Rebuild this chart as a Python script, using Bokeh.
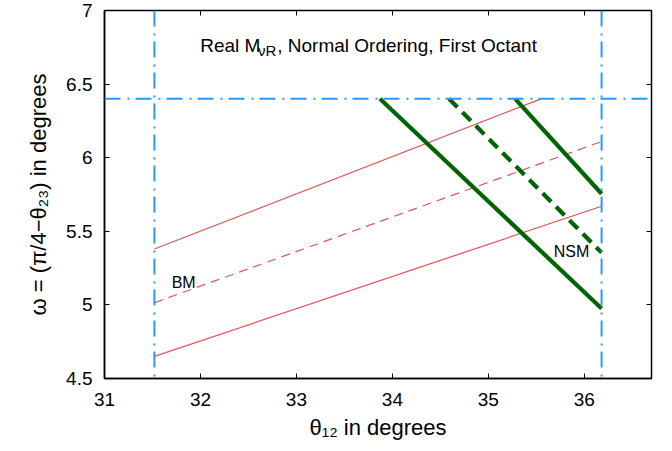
from bokeh.plotting import figure
from bokeh.models import Label, Span, LinearAxis, Range1d, FixedTicker, CustomJSTickFormatter
from bokeh.embed import file_html
from bokeh.resources import INLINE

# ---- data ----
x_ticks = [31, 32, 33, 34, 35, 36]
y_ticks = [4.5, 5, 5.5, 6, 6.5, 7]

# experimental bounds (dash-dot blue lines)
theta12_bounds = [31.52, 36.18]
omega_bound = [6.40]

# BM lines (red): [start, end]
bm_upper_x = [31.52, 35.55]
bm_upper_y = [5.38, 6.40]
bm_mid_x = [31.52, 36.18]
bm_mid_y = [5.015, 6.11]
bm_lower_x = [31.52, 36.18]
bm_lower_y = [4.65, 5.67]

# NSM lines (green)
nsm_left_x = [33.87, 36.18]
nsm_left_y = [6.40, 4.975]
nsm_mid_x = [34.59, 36.18]
nsm_mid_y = [6.40, 5.355]
nsm_right_x = [35.28, 36.18]
nsm_right_y = [6.40, 5.755]

FONT = "Liberation Sans"
BLUE = "#2c96ff"
RED = "#d9575a"
GREEN = "#006400"

p = figure(width=672, height=451, output_backend="svg", toolbar_location=None,
           x_range=Range1d(31, 36.7), y_range=Range1d(4.5, 7),
           min_border_left=104, min_border_right=21, min_border_top=10, min_border_bottom=73)
p.grid.visible = False
p.background_fill_color = "white"
p.border_fill_color = "white"
p.outline_line_color = "black"
p.outline_line_width = 1.5

fmt = CustomJSTickFormatter(code="return tick.toString();")
for ax, ticks in ((p.xaxis[0], x_ticks), (p.yaxis[0], y_ticks)):
    ax.ticker = FixedTicker(ticks=ticks)
    ax.formatter = fmt
    ax.major_tick_in = 5
    ax.major_tick_out = 0
    ax.minor_tick_line_color = None
    ax.axis_line_color = "black"
    ax.axis_line_width = 1.5
    ax.major_tick_line_width = 1
    ax.major_label_text_font = FONT
    ax.major_label_text_font_size = "19px"
    ax.major_label_text_color = "black"
    ax.axis_label_text_font = FONT
    ax.axis_label_text_font_size = "22px"
    ax.axis_label_text_font_style = "normal"
    ax.axis_label_text_color = "black"

p.xaxis[0].major_label_standoff = 14
p.xaxis[0].axis_label_standoff = 6
p.yaxis[0].major_label_standoff = 12
p.yaxis[0].axis_label_standoff = 12
p.xaxis[0].axis_label = "\u03b8\u2081\u2082 in degrees"
p.yaxis[0].axis_label = "\u03c9 = (\u03c0/4\u2212\u03b8\u2082\u2083) in degrees"

for loc, ticks in (("above", x_ticks), ("right", y_ticks)):
    a = LinearAxis(ticker=FixedTicker(ticks=ticks), major_tick_in=5, major_tick_out=0,
                   minor_tick_line_color=None, axis_line_color=None,
                   major_label_text_font_size="1px", major_label_text_color=None,
                   major_label_standoff=0)
    p.add_layout(a, loc)

# blue dash-dot bounds
for v in theta12_bounds:
    p.add_layout(Span(location=v, dimension="height", line_color=BLUE,
                      line_width=2, line_dash="16 7 2 6"))
for v in omega_bound:
    p.add_layout(Span(location=v, dimension="width", line_color=BLUE,
                      line_width=2, line_dash="16 7 2 6"))

# red BM lines
p.line(bm_upper_x, bm_upper_y, line_color=RED, line_width=1.2)
p.line(bm_mid_x, bm_mid_y, line_color=RED, line_width=1.2, line_dash="9 6")
p.line(bm_lower_x, bm_lower_y, line_color=RED, line_width=1.2)

# green NSM lines
p.line(nsm_left_x, nsm_left_y, line_color=GREEN, line_width=4.2)
p.line(nsm_mid_x, nsm_mid_y, line_color=GREEN, line_width=4.2, line_dash="12 7")
p.line(nsm_right_x, nsm_right_y, line_color=GREEN, line_width=4.2)

def lab(x, y, text, size, align="left", baseline="alphabetic"):
    p.add_layout(Label(x=x, y=y, text=text, text_font=FONT, text_font_size=size,
                       text_color="black", text_align=align, text_baseline=baseline))

lab(31.825, 5.15, "BM", "16px", align="center", baseline="middle")
lab(35.866, 5.363, "NSM", "16px", align="center", baseline="middle")

# title inside plot
lab(31.997, 6.762, "Real M", "19px")
lab(32.60, 6.728, "\u03bdR", "15px")
lab(32.80, 6.762, ", Normal Ordering, First Octant", "19px")

open("out.html", "w").write(file_html(p, INLINE))
